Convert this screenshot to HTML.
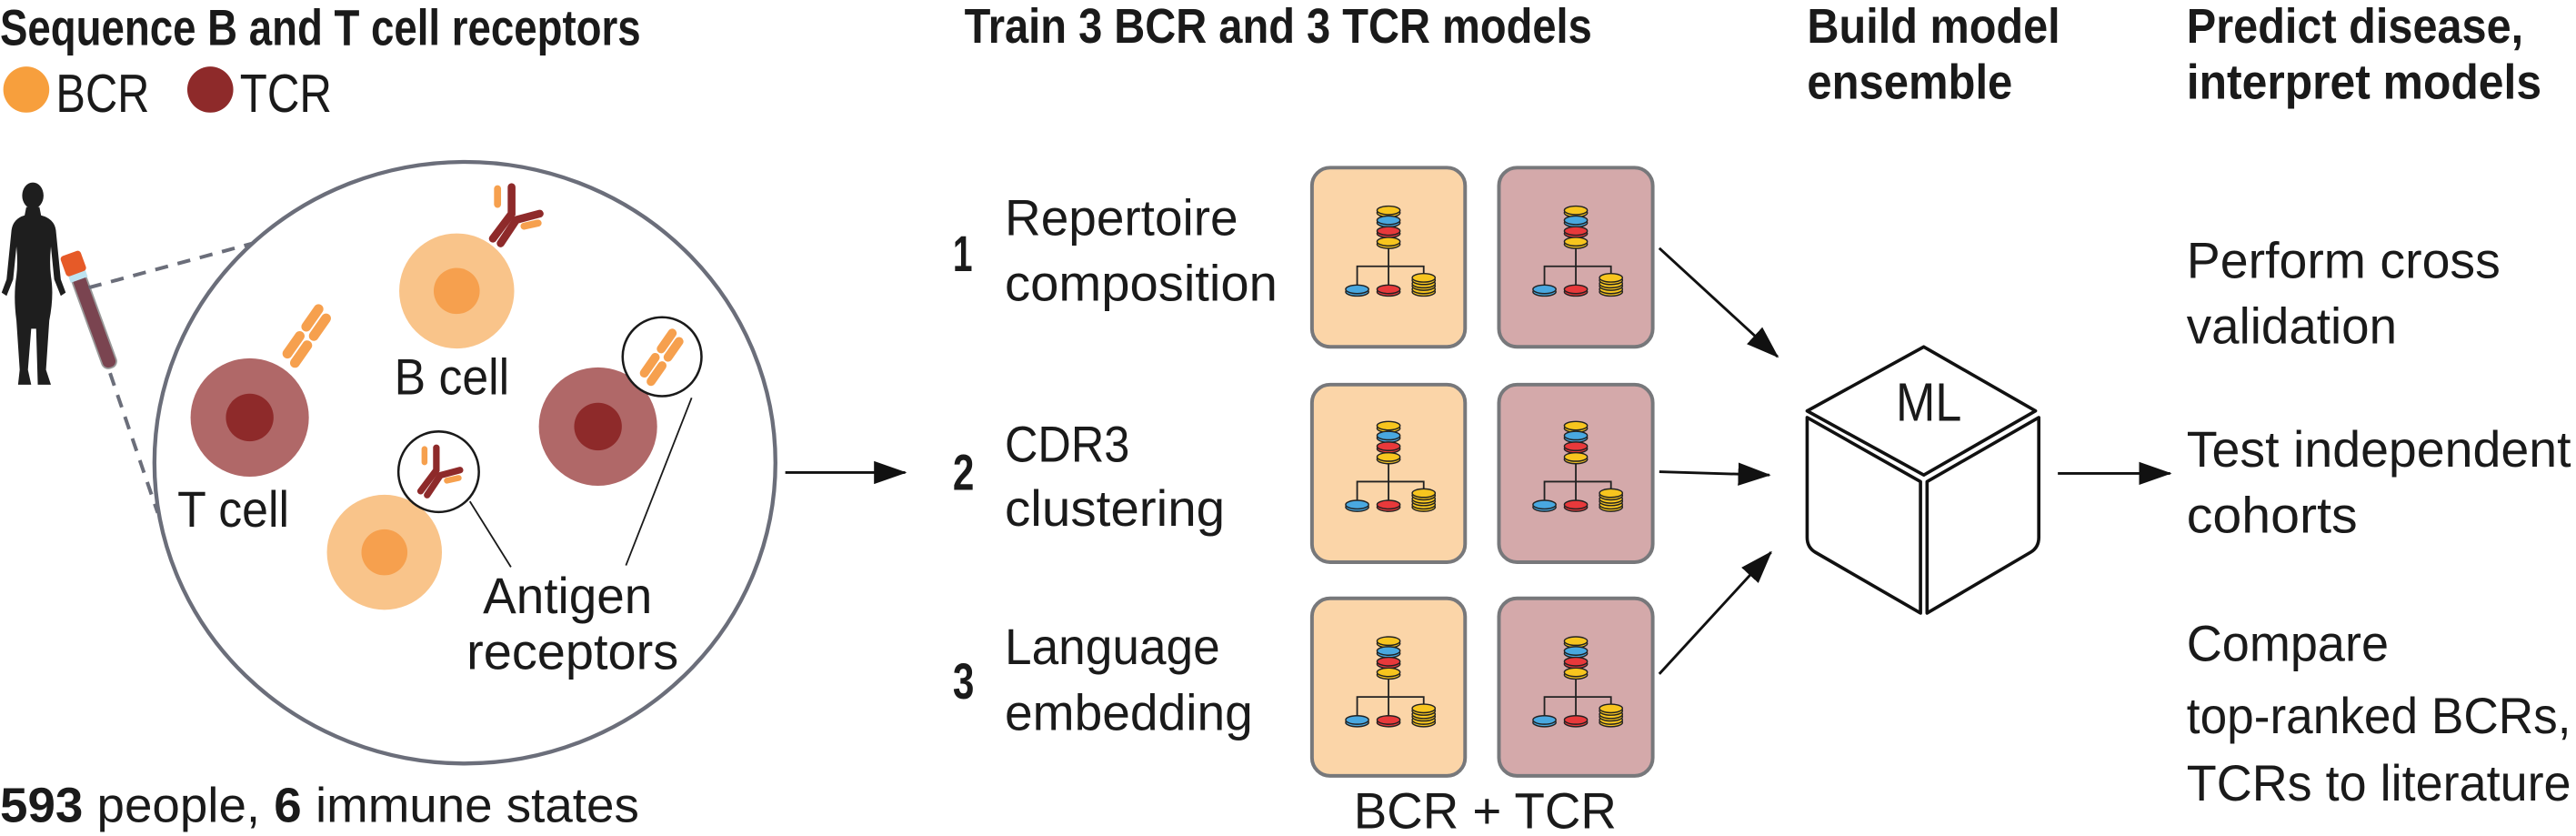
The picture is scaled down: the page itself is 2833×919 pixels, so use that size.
<!DOCTYPE html>
<html><head><meta charset="utf-8"><style>
html,body{margin:0;padding:0;background:#fff;}
svg{display:block;}
text{font-family:"Liberation Sans",sans-serif;fill:#1a1a1a;}
.b{font-weight:bold;}
</style></head><body>
<svg width="2833" height="919" viewBox="0 0 1568 508.6" preserveAspectRatio="none" xmlns="http://www.w3.org/2000/svg">
<defs>
<marker id="ah" markerWidth="20" markerHeight="14" refX="19" refY="7" orient="auto" markerUnits="userSpaceOnUse">
<path d="M0,0 L20,7 L0,14 Z" fill="#111"/>
</marker>
<g id="coinY"><ellipse cx="0" cy="1.5" rx="7" ry="2.6" fill="#f7c51e" stroke="#222" stroke-width="0.8"/><ellipse cx="0" cy="0" rx="7" ry="2.6" fill="#f7c51e" stroke="#222" stroke-width="0.8"/></g>
<g id="coinB"><ellipse cx="0" cy="1.5" rx="7" ry="2.6" fill="#49a8e0" stroke="#222" stroke-width="0.8"/><ellipse cx="0" cy="0" rx="7" ry="2.6" fill="#49a8e0" stroke="#222" stroke-width="0.8"/></g>
<g id="coinR"><ellipse cx="0" cy="1.5" rx="7" ry="2.6" fill="#e8393b" stroke="#222" stroke-width="0.8"/><ellipse cx="0" cy="0" rx="7" ry="2.6" fill="#e8393b" stroke="#222" stroke-width="0.8"/></g>
<g id="icon">
<path d="M46.6,48 V72 M27.5,72 V60 H68 V72" fill="none" stroke="#222" stroke-width="1"/>
<use href="#coinY" x="46.6" y="26"/>
<use href="#coinB" x="46.6" y="32"/>
<use href="#coinR" x="46.6" y="38.5"/>
<use href="#coinY" x="46.6" y="45"/>
<use href="#coinB" x="27.5" y="74"/>
<use href="#coinR" x="46.6" y="74"/>
<use href="#coinY" x="68" y="74"/>
<use href="#coinY" x="68" y="70.5"/>
<use href="#coinY" x="68" y="67"/>
</g>
<g id="tbars">
<rect x="-6.5" y="-20" width="6" height="19" rx="3" fill="#f6a04e"/>
<rect x="-6.5" y="0" width="6" height="19" rx="3" fill="#f6a04e"/>
<rect x="0.5" y="-18" width="6" height="19" rx="3" fill="#f6a04e"/>
<rect x="0.5" y="2" width="6" height="19" rx="3" fill="#f6a04e"/>
</g>
<g id="yrec">
<path d="M0,16 L12,0 L12,-17" fill="none" stroke="#8e2a2a" stroke-width="5" stroke-linecap="round"/>
<path d="M5,19 L15,4 L30,0" fill="none" stroke="#8e2a2a" stroke-width="5" stroke-linecap="round"/>
<path d="M3,-16 V-6" fill="none" stroke="#f6a04e" stroke-width="4.5" stroke-linecap="round"/>
<path d="M20,8 L29,6" fill="none" stroke="#f6a04e" stroke-width="4.5" stroke-linecap="round"/>
</g>
</defs>

<text class="b" x="0" y="27.5" font-size="31" textLength="390" lengthAdjust="spacingAndGlyphs">Sequence B and T cell receptors</text>
<text class="b" x="587" y="26" font-size="30" textLength="382" lengthAdjust="spacingAndGlyphs">Train 3 BCR and 3 TCR models</text>
<text class="b" x="1100" y="26" font-size="30" textLength="154" lengthAdjust="spacingAndGlyphs">Build model</text>
<text class="b" x="1100" y="60" font-size="30" textLength="125" lengthAdjust="spacingAndGlyphs">ensemble</text>
<text class="b" x="1331" y="26" font-size="30" textLength="205" lengthAdjust="spacingAndGlyphs">Predict disease,</text>
<text class="b" x="1331" y="60" font-size="30" textLength="216" lengthAdjust="spacingAndGlyphs">interpret models</text>

<circle cx="16" cy="54.5" r="14" fill="#f79f3d"/>
<text x="34" y="68" font-size="33" textLength="57" lengthAdjust="spacingAndGlyphs">BCR</text>
<circle cx="128" cy="54.5" r="14" fill="#8e2a2a"/>
<text x="146" y="68" font-size="33" textLength="56" lengthAdjust="spacingAndGlyphs">TCR</text>

<g fill="#1e1e1e">
<ellipse cx="20" cy="119" rx="6.5" ry="8"/>
<path d="M16,126 H24 L25,131 Q33,133 34,140 L37,170 L40,178 L37,180 L33,170 L31,150 Q30,160 31,168 Q33,180 30,195 L28,225 L31,234 L23,234 L22,200 H19 L17,225 L19,234 L11,234 L12,225 L10,195 Q8,180 10,168 Q11,160 10,150 L8,170 L4,180 L1,178 L4,170 L7,140 Q8,133 15,131 Z"/>
</g>
<g transform="translate(44,160) rotate(-20)">
<rect x="-4" y="8" width="9" height="60" rx="4" fill="#7a4450" stroke="#999" stroke-width="1"/>
<rect x="-5" y="6" width="11" height="5" fill="#bde3f0"/>
<rect x="-6" y="-6" width="13" height="13" rx="2" fill="#e65a28"/>
</g>
<line x1="54" y1="175" x2="154" y2="148" stroke="#6b6e7a" stroke-width="2.2" stroke-dasharray="8,6"/>
<line x1="67" y1="227" x2="96" y2="312" stroke="#6b6e7a" stroke-width="2.2" stroke-dasharray="8,6"/>

<ellipse cx="283" cy="281.5" rx="189" ry="183" fill="#fff" stroke="#6b6e7a" stroke-width="2.4"/>

<circle cx="152" cy="254" r="36" fill="#b06868"/><circle cx="152" cy="254" r="14.5" fill="#8e2a2a"/>
<circle cx="278" cy="177" r="35" fill="#f9c48a"/><circle cx="278" cy="177" r="14" fill="#f6a04e"/>
<circle cx="364" cy="259.5" r="36" fill="#b06868"/><circle cx="364" cy="259.5" r="14.5" fill="#8e2a2a"/>
<circle cx="234" cy="336" r="35" fill="#f9c48a"/><circle cx="234" cy="336" r="14" fill="#f6a04e"/>

<use href="#tbars" transform="translate(187,204) rotate(35)"/>
<use href="#yrec" transform="translate(300,130) scale(0.95)"/>
<circle cx="267" cy="287" r="24.5" fill="#fff" stroke="#1a1a1a" stroke-width="1.4"/>
<use href="#yrec" transform="translate(256,286) scale(0.8)"/>
<circle cx="403" cy="217" r="24" fill="#fff" stroke="#1a1a1a" stroke-width="1.4"/>
<use href="#tbars" transform="translate(403,217) rotate(35) scale(0.9)"/>

<text x="240" y="240" font-size="31" textLength="70" lengthAdjust="spacingAndGlyphs">B cell</text>
<text x="108" y="320.5" font-size="31" textLength="68" lengthAdjust="spacingAndGlyphs">T cell</text>
<text x="294" y="373" font-size="31" textLength="103" lengthAdjust="spacingAndGlyphs">Antigen</text>
<text x="284" y="407" font-size="31" textLength="129" lengthAdjust="spacingAndGlyphs">receptors</text>
<line x1="286" y1="305" x2="311" y2="345" stroke="#1a1a1a" stroke-width="1"/>
<line x1="421" y1="242" x2="381" y2="344" stroke="#1a1a1a" stroke-width="1"/>

<text x="0" y="500" font-size="30" textLength="389" lengthAdjust="spacingAndGlyphs"><tspan font-weight="bold">593</tspan> people, <tspan font-weight="bold">6</tspan> immune states</text>

<line x1="478" y1="287.5" x2="551" y2="287.5" stroke="#111" stroke-width="1.6" marker-end="url(#ah)"/>

<text class="b" x="580" y="165" font-size="31" textLength="12" lengthAdjust="spacingAndGlyphs">1</text>
<text x="611.6" y="143" font-size="31" textLength="142" lengthAdjust="spacingAndGlyphs">Repertoire</text>
<text x="611.6" y="183" font-size="31" textLength="166" lengthAdjust="spacingAndGlyphs">composition</text>
<text class="b" x="580" y="298" font-size="31" textLength="13" lengthAdjust="spacingAndGlyphs">2</text>
<text x="611.6" y="281" font-size="31" textLength="76" lengthAdjust="spacingAndGlyphs">CDR3</text>
<text x="611.6" y="320" font-size="31" textLength="134" lengthAdjust="spacingAndGlyphs">clustering</text>
<text class="b" x="580" y="425" font-size="31" textLength="13" lengthAdjust="spacingAndGlyphs">3</text>
<text x="611.6" y="404" font-size="31" textLength="131" lengthAdjust="spacingAndGlyphs">Language</text>
<text x="611.6" y="444" font-size="31" textLength="151" lengthAdjust="spacingAndGlyphs">embedding</text>

<g stroke="#77787b" stroke-width="2.2">
<rect x="798.6" y="102" width="93.2" height="109" rx="11" fill="#fbd5a8"/>
<rect x="912.4" y="102" width="93.6" height="109" rx="11" fill="#d4a9aa"/>
<rect x="798.6" y="234" width="93.2" height="108" rx="11" fill="#fbd5a8"/>
<rect x="912.4" y="234" width="93.6" height="108" rx="11" fill="#d4a9aa"/>
<rect x="798.6" y="364" width="93.2" height="108" rx="11" fill="#fbd5a8"/>
<rect x="912.4" y="364" width="93.6" height="108" rx="11" fill="#d4a9aa"/>
</g>
<use href="#icon" x="798.6" y="102"/>
<use href="#icon" x="912.6" y="102"/>
<use href="#icon" x="798.6" y="233"/>
<use href="#icon" x="912.6" y="233"/>
<use href="#icon" x="798.6" y="364"/>
<use href="#icon" x="912.6" y="364"/>
<text x="824" y="504" font-size="31" textLength="160" lengthAdjust="spacingAndGlyphs">BCR  +  TCR</text>

<line x1="1010" y1="151" x2="1082" y2="217" stroke="#111" stroke-width="1.6" marker-end="url(#ah)"/>
<line x1="1010" y1="287" x2="1077" y2="289" stroke="#111" stroke-width="1.6" marker-end="url(#ah)"/>
<line x1="1010" y1="410" x2="1078" y2="336" stroke="#111" stroke-width="1.6" marker-end="url(#ah)"/>

<g fill="#fff" stroke="#111" stroke-width="2" stroke-linejoin="round">
<path d="M1171,211 L1239,250 L1171,289 L1100,250 Z"/>
<path d="M1100,254 L1169,293 L1169,373 L1105,336 Q1100,333 1100,327 Z"/>
<path d="M1173,293 L1241,254 L1241,327 Q1241,333 1236,336 L1173,373 Z"/>
</g>
<text x="1154" y="256" font-size="33" textLength="40" lengthAdjust="spacingAndGlyphs">ML</text>

<line x1="1252.6" y1="288" x2="1321" y2="288" stroke="#111" stroke-width="1.6" marker-end="url(#ah)"/>

<text x="1331" y="169" font-size="31" textLength="191" lengthAdjust="spacingAndGlyphs">Perform cross</text>
<text x="1331" y="209" font-size="31" textLength="128" lengthAdjust="spacingAndGlyphs">validation</text>
<text x="1331" y="284" font-size="31" textLength="234" lengthAdjust="spacingAndGlyphs">Test independent</text>
<text x="1331" y="324" font-size="31" textLength="104" lengthAdjust="spacingAndGlyphs">cohorts</text>
<text x="1331" y="402" font-size="31" textLength="123" lengthAdjust="spacingAndGlyphs">Compare</text>
<text x="1331" y="446" font-size="31" textLength="234" lengthAdjust="spacingAndGlyphs">top-ranked BCRs,</text>
<text x="1331" y="487" font-size="31" textLength="234" lengthAdjust="spacingAndGlyphs">TCRs to literature</text>
</svg>
</body></html>
